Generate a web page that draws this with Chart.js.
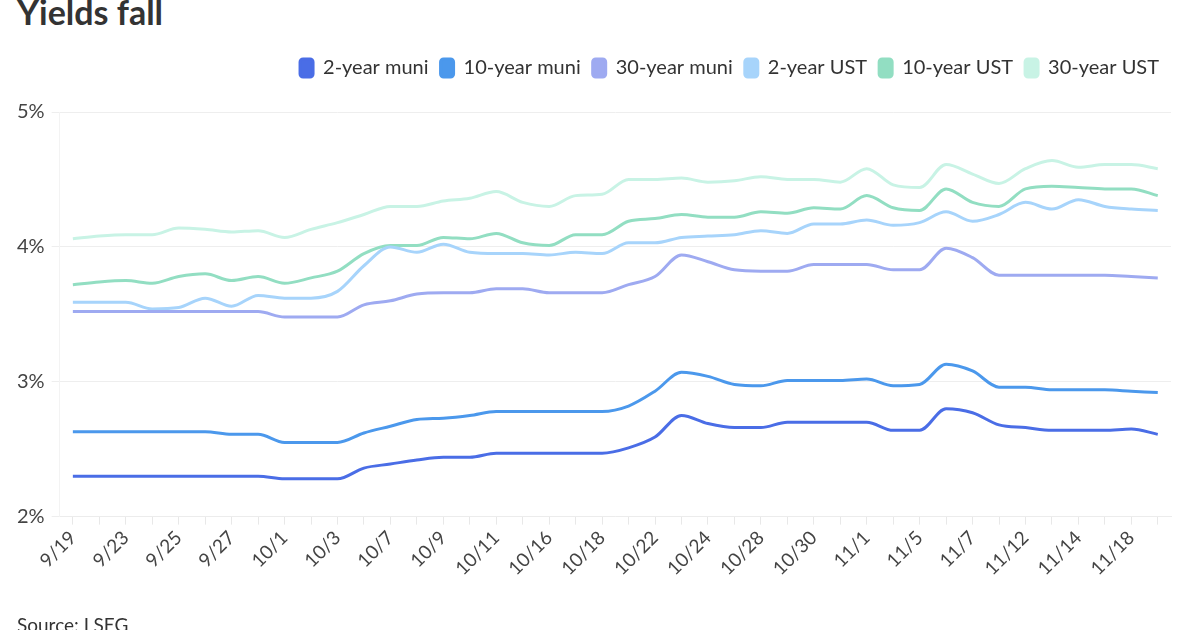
<!DOCTYPE html>
<html>
<head>
<meta charset="utf-8">
<script src="https://cdn.jsdelivr.net/npm/chart.js@4.4.1/dist/chart.umd.min.js"></script>
<style>
  html, body { margin: 0; padding: 0; background: #fff; overflow: hidden; }
  body { width: 1200px; height: 630px; position: relative; font-family: Lato, "Noto Sans", sans-serif; }
  #title { position: absolute; left: 17px; top: -5px; font-size: 34px; line-height: 1; font-weight: 700; color: #333; }
  #source { position: absolute; left: 17px; top: 615px; font-size: 19px; line-height: 1; color: #333; }
  #wrap { position: absolute; left: 0; top: 0; width: 1200px; height: 630px; }
</style>
</head>
<body>
<div id="title">Yields fall</div>
<div id="wrap"><canvas id="yieldChart"></canvas></div>
<div id="source">Source: LSEG</div>
<script>
// dates (trading days)
const dates = ['9/19','9/20','9/23','9/24','9/25','9/26','9/27','9/30','10/1','10/2','10/3','10/4','10/7','10/8','10/9','10/10','10/11','10/15','10/16','10/17','10/18','10/21','10/22','10/23','10/24','10/25','10/28','10/29','10/30','10/31','11/1','11/4','11/5','11/6','11/7','11/8','11/12','11/13','11/14','11/15','11/18','11/19'];

// yields, percent
const muni2 = [2.30,2.30,2.30,2.30,2.30,2.30,2.30,2.30,2.28,2.28,2.28,2.36,2.39,2.42,2.44,2.44,2.47,2.47,2.47,2.47,2.47,2.51,2.59,2.75,2.69,2.66,2.66,2.70,2.70,2.70,2.70,2.64,2.64,2.80,2.77,2.68,2.66,2.64,2.64,2.64,2.65,2.61];
const muni10 = [2.63,2.63,2.63,2.63,2.63,2.63,2.61,2.61,2.55,2.55,2.55,2.62,2.67,2.72,2.73,2.75,2.78,2.78,2.78,2.78,2.78,2.82,2.93,3.07,3.04,2.98,2.97,3.01,3.01,3.01,3.02,2.97,2.98,3.13,3.08,2.96,2.96,2.94,2.94,2.94,2.93,2.92];
const muni30 = [3.52,3.52,3.52,3.52,3.52,3.52,3.52,3.52,3.48,3.48,3.48,3.57,3.60,3.65,3.66,3.66,3.69,3.69,3.66,3.66,3.66,3.72,3.78,3.94,3.89,3.83,3.82,3.82,3.87,3.87,3.87,3.83,3.83,3.99,3.92,3.79,3.79,3.79,3.79,3.79,3.78,3.77];
const ust2 = [3.59,3.59,3.59,3.54,3.55,3.62,3.56,3.64,3.62,3.62,3.67,3.86,4.00,3.96,4.02,3.96,3.95,3.95,3.94,3.96,3.95,4.03,4.03,4.07,4.08,4.09,4.12,4.10,4.17,4.17,4.20,4.16,4.18,4.26,4.19,4.24,4.33,4.28,4.35,4.30,4.28,4.27];
const ust10 = [3.72,3.74,3.75,3.73,3.78,3.80,3.75,3.78,3.73,3.77,3.82,3.95,4.01,4.01,4.07,4.06,4.10,4.03,4.01,4.09,4.09,4.19,4.21,4.24,4.22,4.22,4.26,4.25,4.29,4.28,4.38,4.29,4.27,4.43,4.33,4.30,4.43,4.45,4.44,4.43,4.43,4.38];
const ust30 = [4.06,4.08,4.09,4.09,4.14,4.13,4.11,4.12,4.07,4.13,4.18,4.24,4.30,4.30,4.34,4.36,4.41,4.33,4.30,4.38,4.39,4.50,4.50,4.51,4.48,4.49,4.52,4.50,4.50,4.48,4.58,4.46,4.44,4.61,4.54,4.47,4.58,4.64,4.59,4.61,4.61,4.58];

const yTicks = [2, 3, 4, 5];

const seriesNames = ['2-year muni', '10-year muni', '30-year muni', '2-year UST', '10-year UST', '30-year UST'];
const seriesData = [muni2, muni10, muni30, ust2, ust10, ust30];
const seriesColors = ['#4a6de6', '#4b98ec', '#9eaaf1', '#a7d4fb', '#92dec2', '#c8f3e5'];

// push plot area down below the legend
const legendGap = {
  id: 'legendGap',
  beforeInit(chart) {
    const fit = chart.legend.fit;
    chart.legend.fit = function () {
      fit.bind(chart.legend)();
      this.height += 24;
    };
  }
};

const ctx = document.getElementById('yieldChart');
new Chart(ctx, {
  type: 'line',
  data: {
    labels: dates,
    datasets: seriesNames.map((name, i) => ({
      label: name,
      data: seriesData[i],
      borderColor: seriesColors[i],
      backgroundColor: seriesColors[i],
      borderWidth: 3,
      pointRadius: 0,
      pointHoverRadius: 0,
      cubicInterpolationMode: 'monotone',
      fill: false
    }))
  },
  options: {
    responsive: true,
    maintainAspectRatio: false,
    animation: false,
    layout: { padding: { top: 46, left: 10, right: 29, bottom: 48 } },
    scales: {
      x: {
        offset: true,
        grid: { drawOnChartArea: false, drawTicks: true, tickLength: 8, color: '#e8e8e8' },
        border: { display: true, color: '#ececec' },
        ticks: {
          autoSkip: false,
          minRotation: 45,
          maxRotation: 45,
          color: '#444',
          padding: 2,
          font: { family: 'Lato', size: 19 },
          callback: (v, i) => (i % 2 === 0 ? dates[i] : '')
        }
      },
      y: {
        min: 2,
        max: 5,
        afterBuildTicks: axis => { axis.ticks = yTicks.map(v => ({ value: v })); },
        grid: { color: '#eeeeee', tickLength: 8 },
        border: { display: true, color: '#f3f3f3' },
        ticks: {
          color: '#444',
          padding: 7,
          font: { family: 'Lato', size: 20 },
          callback: v => v + '%'
        }
      }
    },
    plugins: {
      legend: {
        position: 'top',
        align: 'end',
        labels: {
          boxWidth: 13,
          boxHeight: 18,
          useBorderRadius: true,
          borderRadius: 3,
          padding: 12,
          color: '#333',
          font: { family: 'Lato', size: 20 }
        }
      },
      tooltip: { enabled: false }
    }
  },
  plugins: [legendGap]
});
</script>
</body>
</html>
